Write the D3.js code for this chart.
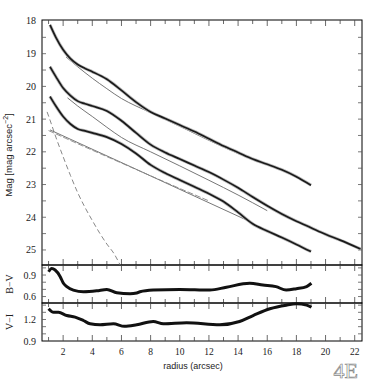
<!DOCTYPE html>
<html>
<head>
<meta charset="utf-8">
<script src="https://cdn.jsdelivr.net/npm/d3@7"></script>
<style>
  body { margin: 0; background: #fff; }
  svg { display: block; }
</style>
</head>
<body>
<svg id="chart" width="382" height="382"></svg>
<script>
// surface brightness profiles (radius arcsec, mag/arcsec^2)
var prof1R = [1.1, 1.5, 2.0, 2.5, 3.0, 3.5, 4, 5, 6, 7, 8, 9, 10, 11, 12, 13, 14, 15, 16, 17, 18, 19];
var prof1M = [18.12, 18.5, 18.88, 19.15, 19.33, 19.45, 19.55, 19.78, 20.12, 20.48, 20.78, 20.98, 21.18, 21.38, 21.6, 21.82, 22.02, 22.22, 22.38, 22.55, 22.76, 23.02];

var prof2R = [1.1, 1.5, 2.0, 2.5, 3.0, 3.5, 4, 5, 6, 7, 8, 9, 10, 11, 12, 13, 14, 15, 16, 17, 18, 19, 20, 21, 22.4];
var prof2M = [19.4, 19.7, 20.05, 20.28, 20.45, 20.53, 20.6, 20.75, 21.05, 21.42, 21.78, 22.02, 22.22, 22.42, 22.62, 22.85, 23.1, 23.38, 23.65, 23.9, 24.12, 24.32, 24.52, 24.7, 24.97];

var prof3R = [1.1, 1.5, 2.0, 2.5, 3.0, 3.5, 4, 5, 6, 7, 8, 9, 10, 11, 12, 13, 14, 15, 16, 17, 18, 19];
var prof3M = [20.31, 20.6, 20.92, 21.15, 21.3, 21.36, 21.42, 21.55, 21.76, 22.05, 22.4, 22.65, 22.86, 23.07, 23.28, 23.52, 23.85, 24.2, 24.42, 24.62, 24.83, 25.05];

// fits
var fit1R = [2.2, 3, 4, 5, 6, 7, 8, 10, 12, 14, 15];
var fit1M = [19.1, 19.4, 19.75, 20.07, 20.37, 20.6, 20.8, 21.22, 21.65, 22.05, 22.23];
var fit2R = [2.3, 3, 4, 5, 6, 8, 10, 12, 14, 16];
var fit2M = [20.35, 20.6, 20.92, 21.25, 21.56, 22.0, 22.43, 22.87, 23.32, 23.8];
var fit3R = [1.1, 6.6, 14.6];
var fit3M = [21.33, 22.45, 24.09];
var discR = [1.0, 2.14, 6.6, 10, 12];
var discM = [21.35, 21.58, 22.46, 23.12, 23.5];
var bulgeR = [0.9, 1.1, 1.5, 2.0, 2.5, 3.0, 3.5, 4.0, 4.5, 5.0, 5.5, 5.9];
var bulgeM = [20.78, 21.03, 21.55, 22.15, 22.72, 23.25, 23.7, 24.1, 24.48, 24.82, 25.12, 25.45];

// colour profiles
var bvR = [1.0, 1.22, 1.45, 1.8, 2.02, 2.25, 2.7, 3.39, 4.3, 5.0, 5.68, 6.59, 7.05, 7.27, 8.18, 10.0, 12.07, 13.2, 14.8, 15.7, 16.6, 17.3, 18.0, 18.7, 19.03];
var bvV = [0.946, 0.99, 0.97, 0.877, 0.785, 0.738, 0.69, 0.667, 0.68, 0.7, 0.653, 0.64, 0.65, 0.667, 0.69, 0.7, 0.69, 0.73, 0.785, 0.76, 0.738, 0.69, 0.71, 0.74, 0.785];
var viR = [1.0, 1.34, 1.68, 2.25, 2.82, 3.39, 3.85, 4.53, 5.45, 6.2, 7.05, 8.18, 8.87, 10.47, 12.75, 14.1, 15.03, 16.18, 17.3, 18.0, 18.7, 19.03];
var viV = [1.35, 1.3, 1.3, 1.255, 1.233, 1.186, 1.14, 1.126, 1.14, 1.104, 1.126, 1.172, 1.14, 1.154, 1.126, 1.172, 1.255, 1.35, 1.4, 1.418, 1.4, 1.37];

var xTicks = [2, 4, 6, 8, 10, 12, 14, 16, 18, 20, 22];
var magTicks = [18, 19, 20, 21, 22, 23, 24, 25];
var bvTicks = [0.9, 0.6];
var viTicks = [1.2, 0.9];

function zip(a, b) { return a.map(function(d, i) { return [d, b[i]]; }); }

var svg = d3.select("#chart");
var serif = "'Liberation Serif', 'DejaVu Serif', serif";
var sans = "'Liberation Sans', Arial, sans-serif";

var x = d3.scaleLinear().domain([0.55, 22.5]).range([42, 362]);
var yMag = d3.scaleLinear().domain([17.97, 25.46]).range([20, 265]);
var yBV = d3.scaleLinear().domain([0.51, 1.04]).range([303, 265]);
var yVI = d3.scaleLinear().domain([0.9, 1.43]).range([341, 303]);

var panels = [
  { y: yMag, top: 20, bot: 265, minor: d3.range(18, 25.5, 0.5), labels: magTicks, fmt: d3.format("d") },
  { y: yBV, top: 265, bot: 303, minor: d3.range(0.6, 1.01, 0.1), labels: bvTicks, fmt: d3.format(".1f") },
  { y: yVI, top: 303, bot: 341, minor: d3.range(1.0, 1.41, 0.1), labels: viTicks, fmt: d3.format(".1f") }
];

var xMinor = d3.range(1, 23, 1);

panels.forEach(function(p) {
  var g = svg.append("g");
  g.append("rect").attr("x", 42).attr("y", p.top).attr("width", 320).attr("height", p.bot - p.top)
    .attr("fill", "none").attr("stroke", "#000").attr("stroke-width", 1);
  // x ticks top and bottom, pointing in
  xMinor.forEach(function(v) {
    var len = (v % 2 == 0) ? 6 : 4;
    g.append("line").attr("x1", x(v)).attr("x2", x(v)).attr("y1", p.top).attr("y2", p.top + len)
      .attr("stroke", "#444").attr("stroke-width", 0.8);
    g.append("line").attr("x1", x(v)).attr("x2", x(v)).attr("y1", p.bot).attr("y2", p.bot - len)
      .attr("stroke", "#444").attr("stroke-width", 0.8);
  });
  // y ticks left and right
  p.minor.forEach(function(v) {
    var yy = p.y(v);
    if (yy < p.top + 1 || yy > p.bot - 1) return;
    g.append("line").attr("x1", 42).attr("x2", 46).attr("y1", yy).attr("y2", yy).attr("stroke", "#555").attr("stroke-width", 0.8);
    g.append("line").attr("x1", 362).attr("x2", 358).attr("y1", yy).attr("y2", yy).attr("stroke", "#555").attr("stroke-width", 0.8);
  });
  p.labels.forEach(function(v) {
    g.append("text").attr("x", 36).attr("y", p.y(v) + 3.5).attr("text-anchor", "end")
      .attr("font-family", serif).attr("font-size", 10).attr("fill", "#222").text(p.fmt(v));
  });
});

// x tick labels
xTicks.forEach(function(v) {
  svg.append("text").attr("x", x(v)).attr("y", 355).attr("text-anchor", "middle")
    .attr("font-family", serif).attr("font-size", 9.5).attr("fill", "#222").text(v);
});
svg.append("text").attr("x", 193).attr("y", 369).attr("text-anchor", "middle")
  .attr("font-family", sans).attr("font-size", 9).attr("fill", "#222").text("radius (arcsec)");

// y axis titles
var yt = svg.append("text").attr("transform", "translate(12,155) rotate(-90)").attr("text-anchor", "middle")
  .attr("font-family", sans).attr("font-size", 9.5).attr("fill", "#222");
yt.append("tspan").text("Mag [mag arcsec");
yt.append("tspan").attr("dy", -4).attr("font-size", 7).text("−2");
yt.append("tspan").attr("dy", 4).text("]");
svg.append("text").attr("transform", "translate(13,284) rotate(-90)").attr("text-anchor", "middle")
  .attr("font-family", serif).attr("font-size", 10).attr("fill", "#222").text("B−V");
svg.append("text").attr("transform", "translate(13,322) rotate(-90)").attr("text-anchor", "middle")
  .attr("font-family", serif).attr("font-size", 10).attr("fill", "#222").text("V−I");

// lines
var lineMag = d3.line().x(function(d) { return x(d[0]); }).y(function(d) { return yMag(d[1]); }).curve(d3.curveMonotoneX);
var lineBV = d3.line().x(function(d) { return x(d[0]); }).y(function(d) { return yBV(d[1]); }).curve(d3.curveMonotoneX);
var lineVI = d3.line().x(function(d) { return x(d[0]); }).y(function(d) { return yVI(d[1]); }).curve(d3.curveMonotoneX);

var plot = svg.append("g");
// fits
[zip(fit1R, fit1M), zip(fit2R, fit2M), zip(fit3R, fit3M)].forEach(function(d) {
  plot.append("path").attr("d", lineMag(d)).attr("fill", "none").attr("stroke", "#666").attr("stroke-width", 0.9);
});
plot.append("path").attr("d", lineMag(zip(discR, discM))).attr("fill", "none").attr("stroke", "#888")
  .attr("stroke-width", 0.9).attr("stroke-dasharray", "6,2");
plot.append("path").attr("d", lineMag(zip(bulgeR, bulgeM))).attr("fill", "none").attr("stroke", "#888")
  .attr("stroke-width", 1).attr("stroke-dasharray", "5,3");

// observed profiles: grey scatter halo + dark core
[zip(prof1R, prof1M), zip(prof2R, prof2M), zip(prof3R, prof3M)].forEach(function(d) {
  plot.append("path").attr("d", lineMag(d)).attr("fill", "none").attr("stroke", "#bbb").attr("stroke-width", 3.2);
  plot.append("path").attr("d", lineMag(d)).attr("fill", "none").attr("stroke", "#1a1a1a").attr("stroke-width", 1.7);
});

plot.append("path").attr("d", lineBV(zip(bvR, bvV))).attr("fill", "none").attr("stroke", "#111").attr("stroke-width", 3);
plot.append("path").attr("d", lineVI(zip(viR, viV))).attr("fill", "none").attr("stroke", "#111").attr("stroke-width", 3);

// panel tag
svg.append("text").attr("x", 358).attr("y", 378).attr("text-anchor", "end")
  .attr("font-family", serif).attr("font-size", 22).attr("fill", "#fff")
  .attr("stroke", "#888").attr("stroke-width", 0.7).text("4E");
</script>
</body>
</html>
